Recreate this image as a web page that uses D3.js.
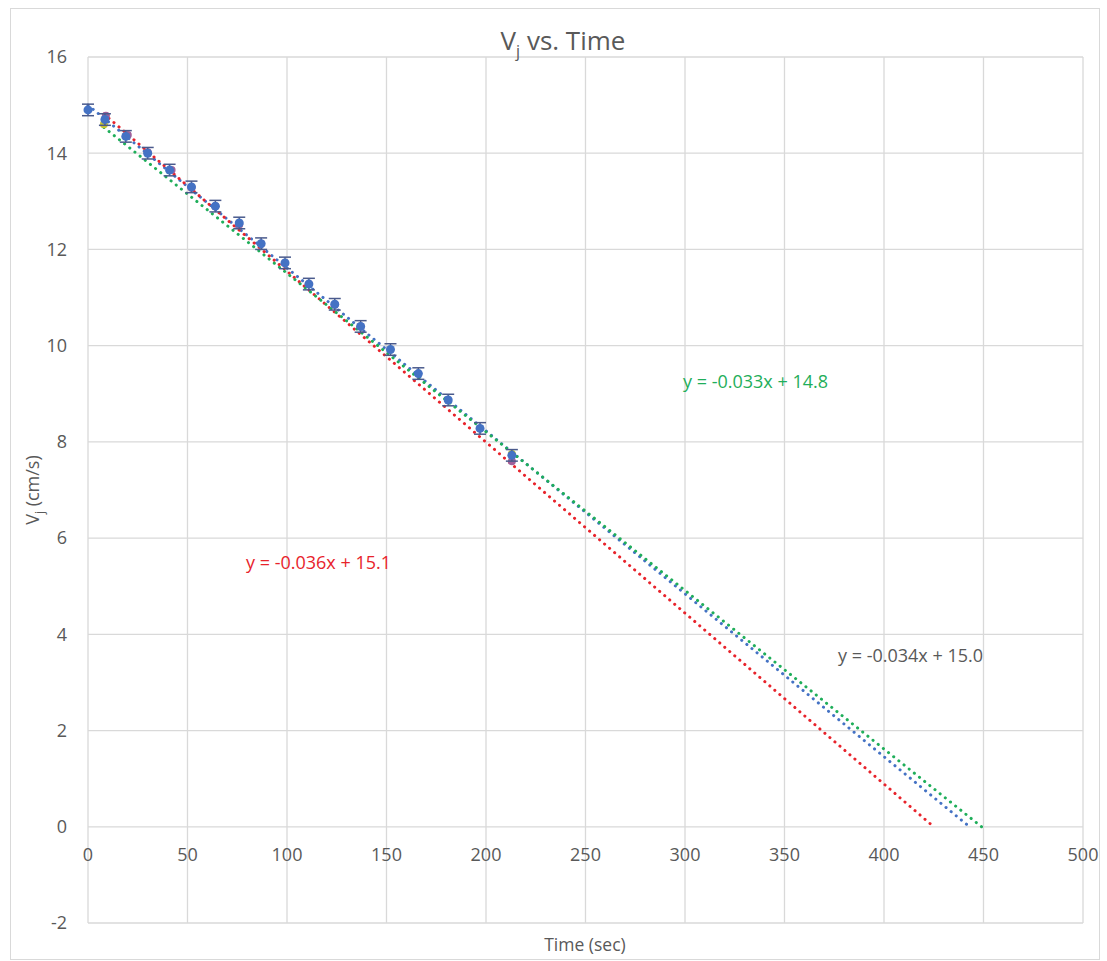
<!DOCTYPE html>
<html>
<head>
<meta charset="utf-8">
<script src="https://cdn.jsdelivr.net/npm/d3@7"></script>
<style>
  body { margin: 0; background: #fff; }
  text { font-family: "Open Sans", sans-serif; fill: #595959; }
</style>
</head>
<body>
<svg id="chart"></svg>
<script>
// data
const timeBlue = [0, 8.5, 19, 30, 41, 52, 64, 76, 87, 99, 111, 124, 137, 152, 166, 181, 197, 213];
const vBlue = [14.9, 14.7, 14.35, 14.0, 13.65, 13.3, 12.9, 12.55, 12.12, 11.72, 11.28, 10.86, 10.4, 9.92, 9.42, 8.87, 8.28, 7.72];
const errBlue = 0.12;

const timeRed = [9, 20, 30, 42, 52, 64, 76, 87, 99, 111, 124, 137, 213];
const vRed = [14.78, 14.38, 14.02, 13.65, 13.28, 12.9, 12.52, 12.12, 11.72, 11.28, 10.85, 10.4, 7.6];

const timeGreen = [8, 213];
const vGreen = [14.6, 7.75];

// trendlines (slope, intercept) as drawn, with forecast to y = 0
const trendNames = ['blue', 'red', 'green'];
const trendSlopes = [-0.03386, -0.03553, -0.03296];
const trendIntercepts = [15.0, 15.1, 14.8];
const trendStarts = [0, 8, 8];
const trendLabels = ['y = -0.034x + 15.0', 'y = -0.036x + 15.1', 'y = -0.033x + 14.8'];

const xTicks = [0, 50, 100, 150, 200, 250, 300, 350, 400, 450, 500];
const yTicks = [-2, 0, 2, 4, 6, 8, 10, 12, 14, 16];

const W = 1107, H = 961;
const margin = { top: 57, right: 24, bottom: 38, left: 88 };
const width = 1083 - margin.left;
const height = 923 - margin.top;

const svg = d3.select('#chart')
    .attr('width', W)
    .attr('height', H);

svg.append('rect')
    .attr('x', 10.5).attr('y', 8.5)
    .attr('width', 1089).attr('height', 951)
    .attr('fill', '#fff')
    .attr('stroke', '#D9D9D9');

const g = svg.append('g')
    .attr('transform', `translate(${margin.left},${margin.top})`);

const x = d3.scaleLinear().domain([0, 500]).range([0, width]);
const y = d3.scaleLinear().domain([-2, 16]).range([height, 0]);

// gridlines
g.selectAll('.vgrid')
    .data(xTicks)
    .enter().append('line')
    .attr('x1', d => x(d)).attr('x2', d => x(d))
    .attr('y1', 0).attr('y2', height)
    .attr('stroke', '#D9D9D9').attr('stroke-width', 1.3);

g.selectAll('.hgrid')
    .data(yTicks)
    .enter().append('line')
    .attr('x1', 0).attr('x2', width)
    .attr('y1', d => y(d)).attr('y2', d => y(d))
    .attr('stroke', '#D9D9D9').attr('stroke-width', 1.3);

// tick labels
g.selectAll('.ylab')
    .data(yTicks)
    .enter().append('text')
    .attr('x', -21)
    .attr('y', d => y(d))
    .attr('dy', '0.35em')
    .attr('text-anchor', 'end')
    .style('font-size', '18px')
    .text(d => d);

g.selectAll('.xlab')
    .data(xTicks)
    .enter().append('text')
    .attr('x', d => x(d))
    .attr('y', y(0) + 28)
    .attr('dy', '0.35em')
    .attr('text-anchor', 'middle')
    .style('font-size', '18px')
    .text(d => d);

// title
const title = svg.append('text')
    .attr('x', 563).attr('y', 50)
    .attr('text-anchor', 'middle')
    .style('font-size', '26px');
title.append('tspan').text('V');
title.append('tspan').attr('dy', 7).style('font-size', '16px').text('j');
title.append('tspan').attr('dy', -7).text(' vs. Time');

// axis titles
svg.append('text')
    .attr('x', 585).attr('y', 945)
    .attr('dy', '0.35em')
    .attr('text-anchor', 'middle')
    .style('font-size', '17.5px')
    .text('Time (sec)');

const yTitle = svg.append('text')
    .attr('transform', 'translate(39,490) rotate(-90)')
    .attr('text-anchor', 'middle')
    .style('font-size', '18px');
yTitle.append('tspan').text('V');
yTitle.append('tspan').attr('dy', 5).style('font-size', '12px').text('j');
yTitle.append('tspan').attr('dy', -5).text(' (cm/s)');

// trendlines
const trendColors = { blue: '#4472C4', red: '#E8232B', green: '#1FAE5A' };
trendNames.forEach((name, i) => {
    const x0 = trendStarts[i];
    const x1 = -trendIntercepts[i] / trendSlopes[i];
    g.append('line')
        .attr('x1', x(x0)).attr('y1', y(trendSlopes[i] * x0 + trendIntercepts[i]))
        .attr('x2', x(x1)).attr('y2', y(0))
        .attr('stroke', trendColors[name])
        .attr('stroke-width', 3)
        .attr('stroke-linecap', 'round')
        .attr('stroke-dasharray', '0.1 6.5');
});

// markers: red series, green series, blue series with error bars
const redPts = timeRed.map((t, i) => ({ t, v: vRed[i] }));
g.selectAll('.redpt')
    .data(redPts)
    .enter().append('circle')
    .attr('cx', d => x(d.t)).attr('cy', d => y(d.v))
    .attr('r', 4)
    .attr('fill', '#A0609A');

const greenPts = timeGreen.map((t, i) => ({ t, v: vGreen[i] }));
g.selectAll('.greenpt')
    .data(greenPts)
    .enter().append('circle')
    .attr('cx', d => x(d.t)).attr('cy', d => y(d.v))
    .attr('r', 4)
    .attr('fill', '#C8C530');

const bluePts = timeBlue.map((t, i) => ({ t, v: vBlue[i] }));
const eb = g.selectAll('.err')
    .data(bluePts)
    .enter().append('g');
eb.append('line')
    .attr('x1', d => x(d.t)).attr('x2', d => x(d.t))
    .attr('y1', d => y(d.v - errBlue)).attr('y2', d => y(d.v + errBlue))
    .attr('stroke', '#4A5A8C').attr('stroke-width', 1.5);
eb.append('line')
    .attr('x1', d => x(d.t) - 6).attr('x2', d => x(d.t) + 6)
    .attr('y1', d => y(d.v + errBlue)).attr('y2', d => y(d.v + errBlue))
    .attr('stroke', '#4A5A8C').attr('stroke-width', 1.5);
eb.append('line')
    .attr('x1', d => x(d.t) - 6).attr('x2', d => x(d.t) + 6)
    .attr('y1', d => y(d.v - errBlue)).attr('y2', d => y(d.v - errBlue))
    .attr('stroke', '#4A5A8C').attr('stroke-width', 1.5);

g.selectAll('.bluept')
    .data(bluePts)
    .enter().append('circle')
    .attr('cx', d => x(d.t)).attr('cy', d => y(d.v))
    .attr('r', 4.5)
    .attr('fill', '#4472C4');

// trendline equation labels
const labelPos = [[838, 656, '#595959'], [246, 563, '#E8232B'], [683, 382, '#1FAE5A']];
trendLabels.forEach((t, i) => {
    svg.append('text')
        .attr('x', labelPos[i][0]).attr('y', labelPos[i][1])
        .attr('dy', '0.35em')
        .style('font-size', '18px')
        .style('fill', labelPos[i][2])
        .text(t);
});
</script>
</body>
</html>
